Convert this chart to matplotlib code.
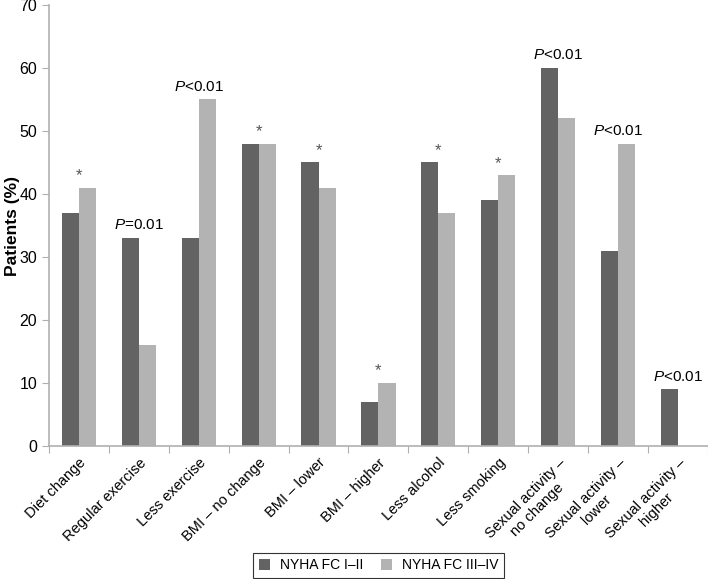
import matplotlib
matplotlib.use("Agg")
import matplotlib.pyplot as plt
import numpy as np

categories = ["Diet change", "Regular exercise", "Less exercise", "BMI \u2013 no change",
              "BMI \u2013 lower", "BMI \u2013 higher", "Less alcohol", "Less smoking",
              "Sexual activity \u2013\nno change", "Sexual activity \u2013\nlower",
              "Sexual activity \u2013\nhigher"]
fc_1_2 = [37, 33, 33, 48, 45, 7, 45, 39, 60, 31, 9]
fc_3_4 = [41, 16, 55, 48, 41, 10, 37, 43, 52, 48, 0]
notes = ["*", "$\\it{P}$=0.01", "$\\it{P}$<0.01", "*", "*", "*", "*", "*",
         "$\\it{P}$<0.01", "$\\it{P}$<0.01", "$\\it{P}$<0.01"]

plt.rcParams['font.family'] = ['Liberation Sans', 'DejaVu Sans']
plt.rcParams['mathtext.fontset'] = 'custom'
plt.rcParams['mathtext.it'] = 'Liberation Sans:italic'
plt.rcParams['mathtext.rm'] = 'Liberation Sans'

fig = plt.figure(figsize=(7.08, 5.79), dpi=100)
ax = fig.add_axes([0.069, 0.2297, 0.931, 0.7617])

x = np.arange(len(categories))
w = 0.285
ax.bar(x - w / 2, fc_1_2, w, color="#636363", label="NYHA FC I\u2013II")
ax.bar(x + w / 2, fc_3_4, w, color="#b3b3b3", label="NYHA FC III\u2013IV")

for i, n in enumerate(notes):
    top = max(fc_1_2[i], fc_3_4[i])
    if n == "*":
        ax.text(i, top + 0.7, n, ha="center", va="bottom", fontsize=12, color="#555555")
    else:
        ax.text(i, top + 0.9, n, ha="center", va="bottom", fontsize=11)

ax.set_xlim(-0.5, len(categories) - 0.5)
ax.set_ylim(0, 70)
ax.set_yticks(range(0, 71, 10))
ax.set_xticks(np.arange(len(categories) + 1) - 0.5)
ax.set_xticklabels([])
ax.set_xticks(x, minor=True)
ax.set_xticklabels(categories, minor=True, rotation=45, ha="right",
                   rotation_mode="anchor", fontsize=10.5, multialignment="center")
ax.tick_params(axis="x", which="minor", length=0, pad=7)
ax.tick_params(axis="x", which="major", length=5, color="#b0b0b0")
ax.tick_params(axis="y", length=5, color="#b0b0b0", labelsize=11.5)

for s in ["top", "right"]:
    ax.spines[s].set_visible(False)
for s in ["left", "bottom"]:
    ax.spines[s].set_color("#b0b0b0")
    ax.spines[s].set_linewidth(1.2)

fig.text(0.018, 0.61, "Patients (%)", rotation=90, ha="center", va="center",
         fontsize=12.5, fontweight="bold")

leg = fig.legend(loc="center", bbox_to_anchor=(0.535, 0.024), ncol=2, fontsize=10,
                 frameon=True, fancybox=False, edgecolor="black", handlelength=0.8,
                 handleheight=0.8, columnspacing=1.3, handletextpad=0.7, borderpad=0.4)
leg.get_frame().set_linewidth(0.8)

fig.savefig("out.png", dpi=100)
